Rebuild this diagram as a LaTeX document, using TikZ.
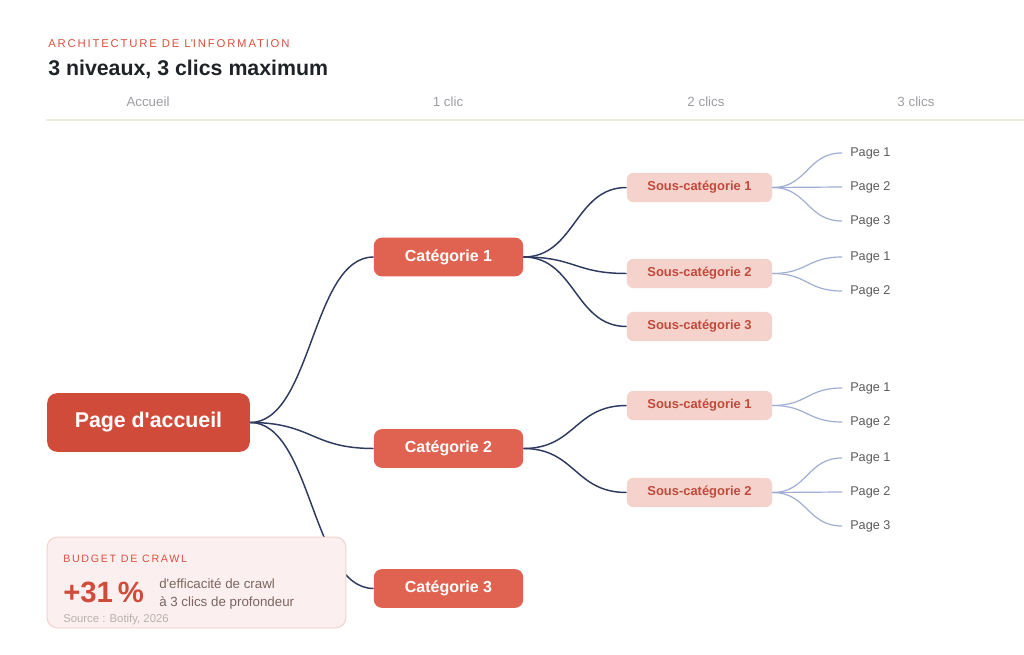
\documentclass[tikz,border=0pt]{standalone}
\usepackage{fontspec}
\setmainfont{Liberation Sans}
\newfontfamily\spacedfont[LetterSpace=16]{Liberation Sans}
\usetikzlibrary{positioning}

\definecolor{homered}{HTML}{D14B3A}
\definecolor{catred}{HTML}{E06352}
\definecolor{subfill}{HTML}{F5D3CC}
\definecolor{subtext}{HTML}{C04A3B}
\definecolor{kicker}{HTML}{D9503F}
\definecolor{titleink}{HTML}{1F2328}
\definecolor{headgray}{HTML}{9C9CA3}
\definecolor{pagegray}{HTML}{5A5A5A}
\definecolor{navy}{HTML}{2F3A5F}
\definecolor{leafblue}{HTML}{A0AED3}
\definecolor{rulebeige}{HTML}{EEEAE4}
\definecolor{budgetfill}{HTML}{FBF0EF}
\definecolor{budgetline}{HTML}{F3D3CE}
\definecolor{budgettext}{HTML}{7D6461}
\definecolor{sourcegray}{HTML}{B9B0AE}

\begin{document}
\begin{tikzpicture}[
    x=0.75pt, y=-0.75pt,
    % boxes of the tree
    homebox/.style={rectangle, fill=homered, rounded corners=7.5pt, minimum width=152pt, minimum height=44pt, inner sep=0pt, text=white, font=\fontsize{16}{19}\selectfont\bfseries},
    catbox/.style={rectangle, fill=catred, rounded corners=6pt, minimum width=112pt, minimum height=29pt, inner sep=0pt, text=white, font=\fontsize{12}{14}\selectfont\bfseries},
    subbox/.style={rectangle, fill=subfill, rounded corners=5pt, minimum width=109pt, minimum height=22pt, inner sep=0pt, text=subtext, font=\fontsize{9.7}{11}\selectfont\bfseries},
    pagelabel/.style={anchor=west, inner xsep=6pt, inner ysep=1pt, text=pagegray, font=\fontsize{9.5}{11}\selectfont},
    colhead/.style={text=headgray, font=\fontsize{10}{12}\selectfont},
    link/.style={navy, line width=1.1pt},
    leaf/.style={leafblue, line width=0.9pt}
]
    \useasboundingbox (0,0) rectangle (1024,655);

    % 1. Heading and click columns
    \node[anchor=west, inner sep=0pt, text=kicker, font=\fontsize{8.5}{10}\selectfont\spacedfont] (kicker) at (48,44) {ARCHITECTURE DE L\textquotesingle INFORMATION};
    \node[anchor=west, inner sep=0pt, text=titleink, font=\fontsize{16}{19}\selectfont\bfseries] (title) at (48,69) {3 niveaux, 3 clics maximum};
    \node[colhead] (h0) at (148,102) {Accueil};
    \node[colhead] (h1) at (448,102) {1 clic};
    \node[colhead] (h2) at (706,102) {2 clics};
    \node[colhead] (h3) at (916,102) {3 clics};
    \draw[rulebeige, line width=0.8pt] (46,120) -- (1024,120);

    % 2. Home and categories
    \node[homebox] (home) at (148.5,422.5) {Page d\textquotesingle accueil};
    \node[catbox] (cat1) at (448.5,257) {Catégorie 1};
    \node[catbox] (cat2) at (448.5,448.5) {Catégorie 2};
    \node[catbox] (cat3) at (448.5,588.5) {Catégorie 3};

    % 3. Sub-categories
    \node[subbox] (sc11) at (699.5,187.5) {Sous-catégorie 1};
    \node[subbox] (sc12) at (699.5,273.5) {Sous-catégorie 2};
    \node[subbox] (sc13) at (699.5,326.5) {Sous-catégorie 3};
    \node[subbox] (sc21) at (699.5,405.5) {Sous-catégorie 1};
    \node[subbox] (sc22) at (699.5,492.5) {Sous-catégorie 2};

    % 4. Pages (3 clics)
    \node[pagelabel] (p111) at (842,153) {Page 1};
    \node[pagelabel] (p112) at (842,187) {Page 2};
    \node[pagelabel] (p113) at (842,221) {Page 3};
    \node[pagelabel] (p121) at (842,257) {Page 1};
    \node[pagelabel] (p122) at (842,291) {Page 2};
    \node[pagelabel] (p211) at (842,388) {Page 1};
    \node[pagelabel] (p212) at (842,422) {Page 2};
    \node[pagelabel] (p221) at (842,458) {Page 1};
    \node[pagelabel] (p222) at (842,492) {Page 2};
    \node[pagelabel] (p223) at (842,526) {Page 3};

    % 5. Links home -> categories -> sub-categories
    \draw[link] (home.east) .. controls +(62,0) and +(-62,0) .. (cat1.west);
    \draw[link] (home.east) .. controls +(62,0) and +(-62,0) .. (cat2.west);
    \draw[link] (home.east) .. controls +(62,0) and +(-62,0) .. (cat3.west);
    \draw[link] (cat1.east) .. controls +(52,0) and +(-52,0) .. (sc11.west);
    \draw[link] (cat1.east) .. controls +(52,0) and +(-52,0) .. (sc12.west);
    \draw[link] (cat1.east) .. controls +(52,0) and +(-52,0) .. (sc13.west);
    \draw[link] (cat2.east) .. controls +(52,0) and +(-52,0) .. (sc21.west);
    \draw[link] (cat2.east) .. controls +(52,0) and +(-52,0) .. (sc22.west);

    % 6. Links sub-categories -> pages
    \draw[leaf] (sc11.east) .. controls +(35,0) and +(-35,0) .. (p111.west);
    \draw[leaf] (sc11.east) -- (p112.west);
    \draw[leaf] (sc11.east) .. controls +(35,0) and +(-35,0) .. (p113.west);
    \draw[leaf] (sc12.east) .. controls +(35,0) and +(-35,0) .. (p121.west);
    \draw[leaf] (sc12.east) .. controls +(35,0) and +(-35,0) .. (p122.west);
    \draw[leaf] (sc21.east) .. controls +(35,0) and +(-35,0) .. (p211.west);
    \draw[leaf] (sc21.east) .. controls +(35,0) and +(-35,0) .. (p212.west);
    \draw[leaf] (sc22.east) .. controls +(35,0) and +(-35,0) .. (p221.west);
    \draw[leaf] (sc22.east) -- (p222.west);
    \draw[leaf] (sc22.east) .. controls +(35,0) and +(-35,0) .. (p223.west);

    % 7. Crawl budget card (drawn last, over the link to Catégorie 3)
    \node[rectangle, fill=budgetfill, draw=budgetline, line width=0.8pt, rounded corners=7.5pt, minimum width=224pt, minimum height=68pt] (budget) at (196.5,582.5) {};
    \node[anchor=west, inner sep=0pt, text=kicker, font=\fontsize{8}{9}\selectfont\spacedfont] (budgethead) at (63,559) {BUDGET DE CRAWL};
    \node[anchor=west, inner sep=0pt, text=homered, font=\fontsize{22}{26}\selectfont\bfseries] (gain) at (63,592) {+31\,\%};
    \node[anchor=west, inner sep=0pt, text=budgettext, font=\fontsize{10}{12}\selectfont] (gainline1) at (159,584) {d\textquotesingle efficacité de crawl};
    \node[anchor=west, inner sep=0pt, text=budgettext, font=\fontsize{10}{12}\selectfont] (gainline2) at (159,603) {à 3 clics de profondeur};
    \node[anchor=west, inner sep=0pt, text=sourcegray, font=\fontsize{8.5}{10}\selectfont] (source) at (63,620) {Source : Botify, 2026};

\end{tikzpicture}
\end{document}
